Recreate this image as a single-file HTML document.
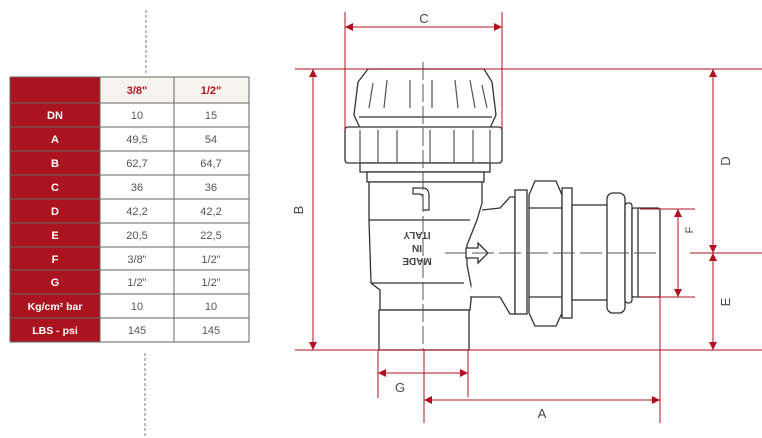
<!DOCTYPE html>
<html><head><meta charset="utf-8"><style>
html,body{margin:0;padding:0;background:#fff;width:762px;height:438px;overflow:hidden}
svg{display:block}
text{font-family:"Liberation Sans",sans-serif}
</style></head><body>
<svg width="762" height="438" viewBox="0 0 762 438" xmlns="http://www.w3.org/2000/svg">
<defs>
<marker id="ar" viewBox="0 0 10 10" refX="10" refY="5" markerWidth="8" markerHeight="8" orient="auto-start-reverse" markerUnits="userSpaceOnUse"><path d="M0,0L10,5L0,10z" fill="#b01020"/></marker>
</defs>
<line x1="146" y1="10" x2="146" y2="74" stroke="#777" stroke-dasharray="3,2"/>
<line x1="145" y1="353" x2="145" y2="438" stroke="#777" stroke-dasharray="3,2"/>
<rect x="10" y="77" width="90" height="265" fill="#ab141f"/>
<rect x="100" y="77" width="149" height="26" fill="#f7f3ee"/>
<g stroke="#666" stroke-width="1" fill="none">
<rect x="10" y="77" width="239" height="265"/>
<line x1="100" y1="77" x2="100" y2="342"/>
<line x1="174" y1="77" x2="174" y2="342"/>
<line x1="10" y1="103" x2="249" y2="103"/>
<line x1="10" y1="127" x2="249" y2="127"/>
<line x1="10" y1="151" x2="249" y2="151"/>
<line x1="10" y1="175" x2="249" y2="175"/>
<line x1="10" y1="199" x2="249" y2="199"/>
<line x1="10" y1="223" x2="249" y2="223"/>
<line x1="10" y1="247" x2="249" y2="247"/>
<line x1="10" y1="270" x2="249" y2="270"/>
<line x1="10" y1="294" x2="249" y2="294"/>
<line x1="10" y1="318" x2="249" y2="318"/>
</g>
<g font-size="11" text-anchor="middle">
<text x="137" y="94" fill="#ab141f" font-weight="bold">3/8"</text>
<text x="211" y="94" fill="#ab141f" font-weight="bold">1/2"</text>
<g fill="#fff" font-weight="bold">
<text x="55" y="119">DN</text><text x="55" y="143">A</text><text x="55" y="167">B</text><text x="55" y="191">C</text><text x="55" y="215">D</text><text x="55" y="239">E</text><text x="55" y="263">F</text><text x="55" y="286">G</text><text x="55" y="310" font-size="10.5">Kg/cm² bar</text><text x="55" y="334" font-size="10.5">LBS - psi</text>
</g>
<g fill="#555">
<text x="137" y="119">10</text><text x="211" y="119">15</text>
<text x="137" y="143">49,5</text><text x="211" y="143">54</text>
<text x="137" y="167">62,7</text><text x="211" y="167">64,7</text>
<text x="137" y="191">36</text><text x="211" y="191">36</text>
<text x="137" y="215">42,2</text><text x="211" y="215">42,2</text>
<text x="137" y="239">20,5</text><text x="211" y="239">22,5</text>
<text x="137" y="263">3/8"</text><text x="211" y="263">1/2"</text>
<text x="137" y="286">1/2"</text><text x="211" y="286">1/2"</text>
<text x="137" y="310">10</text><text x="211" y="310">10</text>
<text x="137" y="334">145</text><text x="211" y="334">145</text>
</g></g>
<g stroke="#333" stroke-width="1.3" fill="#fff">
<path d="M368,69 L484,69 L492,82 L496,115 L490,128 L360,128 L354,115 L358,82 Z"/>
<path d="M359,117 L492,117"/>
<rect x="345" y="127" width="157" height="36" rx="3"/>
<rect x="360" y="163" width="130" height="9"/>
<rect x="367" y="172" width="117" height="10"/>
<path d="M369,182 L482,182 L482,203 L477,220 L467,245 L467,265 L472,290 L470,310 L380,310 L380,290 L371,283 L369,220 Z"/>
<line x1="369" y1="220" x2="470" y2="220"/>
<line x1="371" y1="283" x2="464" y2="283"/>
<rect x="379" y="310" width="90" height="40"/>
<path d="M482,210 L500,208 L510,197 L515,197 L515,314 L510,314 L500,297 L470,297"/>
<rect x="515" y="190" width="12" height="124"/>
<path d="M535,181 L556,181 L562,195 L562,313 L556,326 L535,326 L529,313 L529,195 Z"/>
<line x1="529" y1="208" x2="562" y2="208"/><line x1="529" y1="297" x2="562" y2="297"/>
<rect x="562" y="188" width="10" height="130"/>
<rect x="572" y="205" width="36" height="95"/>
<rect x="607" y="193" width="18" height="120" rx="6"/>
<rect x="625" y="203" width="7" height="100" rx="3"/>
<rect x="632" y="208" width="28" height="89" rx="2"/>
<line x1="638" y1="208" x2="638" y2="297"/>
<path d="M466,248 h12 v-5 l10,10 l-10,10 v-5 h-12 z"/>
</g>
<g stroke="#555" fill="none" stroke-width="1.2">
<line x1="373" y1="83" x2="369" y2="108"/><line x1="387" y1="80" x2="384" y2="108"/><line x1="410" y1="80" x2="410" y2="108"/><line x1="432" y1="80" x2="432" y2="108"/><line x1="455" y1="80" x2="458" y2="108"/><line x1="470" y1="80" x2="475" y2="108"/><line x1="482" y1="85" x2="487" y2="108"/>
<line x1="360" y1="130" x2="360" y2="162"/><line x1="378" y1="130" x2="378" y2="162"/><line x1="397" y1="130" x2="397" y2="162"/><line x1="430" y1="130" x2="430" y2="162"/><line x1="454" y1="130" x2="454" y2="162"/><line x1="473" y1="130" x2="473" y2="162"/><line x1="490" y1="130" x2="490" y2="162"/>
<path d="M413,188 h10 q6,0 6,8 v14 h-6 v-12 q0,-4 -4,-4 h-6 z" fill="#fff" stroke="#333"/>
<line x1="423" y1="62" x2="423" y2="350" stroke-dasharray="18,4" stroke="#555" stroke-width="1"/>
<line x1="445" y1="253" x2="660" y2="253" stroke-dasharray="22,5" stroke="#555" stroke-width="1"/>
</g>
<g font-size="10" fill="#444" font-weight="bold" text-anchor="middle">
<text transform="translate(417,232) rotate(180)">ITALY</text>
<text transform="translate(417,245) rotate(180)">IN</text>
<text transform="translate(417,258) rotate(180)">MADE</text>
</g>
<g stroke="#b01020" stroke-width="1" fill="none">
<line x1="295" y1="69" x2="762" y2="69"/>
<line x1="295" y1="350" x2="762" y2="350"/>
<line x1="690" y1="253" x2="762" y2="253"/>
<line x1="640" y1="209" x2="695" y2="209"/>
<line x1="640" y1="297" x2="695" y2="297"/>
<line x1="313" y1="69" x2="313" y2="350" marker-start="url(#ar)" marker-end="url(#ar)"/>
<line x1="713" y1="69" x2="713" y2="253" marker-start="url(#ar)" marker-end="url(#ar)"/>
<line x1="713" y1="253" x2="713" y2="350" marker-start="url(#ar)" marker-end="url(#ar)"/>
<line x1="678" y1="209" x2="678" y2="297" marker-start="url(#ar)" marker-end="url(#ar)"/>
<line x1="345" y1="12" x2="345" y2="130"/><line x1="502" y1="12" x2="502" y2="130"/>
<line x1="345" y1="27" x2="502" y2="27" marker-start="url(#ar)" marker-end="url(#ar)"/>
<line x1="378" y1="350" x2="378" y2="398"/><line x1="468" y1="350" x2="468" y2="397"/>
<line x1="378" y1="373" x2="468" y2="373" marker-start="url(#ar)" marker-end="url(#ar)"/>
<line x1="424" y1="350" x2="424" y2="423"/><line x1="660" y1="297" x2="660" y2="423"/>
<line x1="424" y1="400" x2="660" y2="400" marker-start="url(#ar)" marker-end="url(#ar)"/>
</g>
<g font-size="13" fill="#445" text-anchor="middle">
<text x="424" y="23">C</text>
<text x="400" y="392">G</text>
<text x="542" y="418">A</text>
<text transform="translate(303,210) rotate(-90)">B</text>
<text transform="translate(730,161) rotate(-90)">D</text>
<text transform="translate(730,302) rotate(-90)">E</text>
<text transform="translate(693,230) rotate(-90)" font-size="11">F</text>
</g>
</svg>
</body></html>
